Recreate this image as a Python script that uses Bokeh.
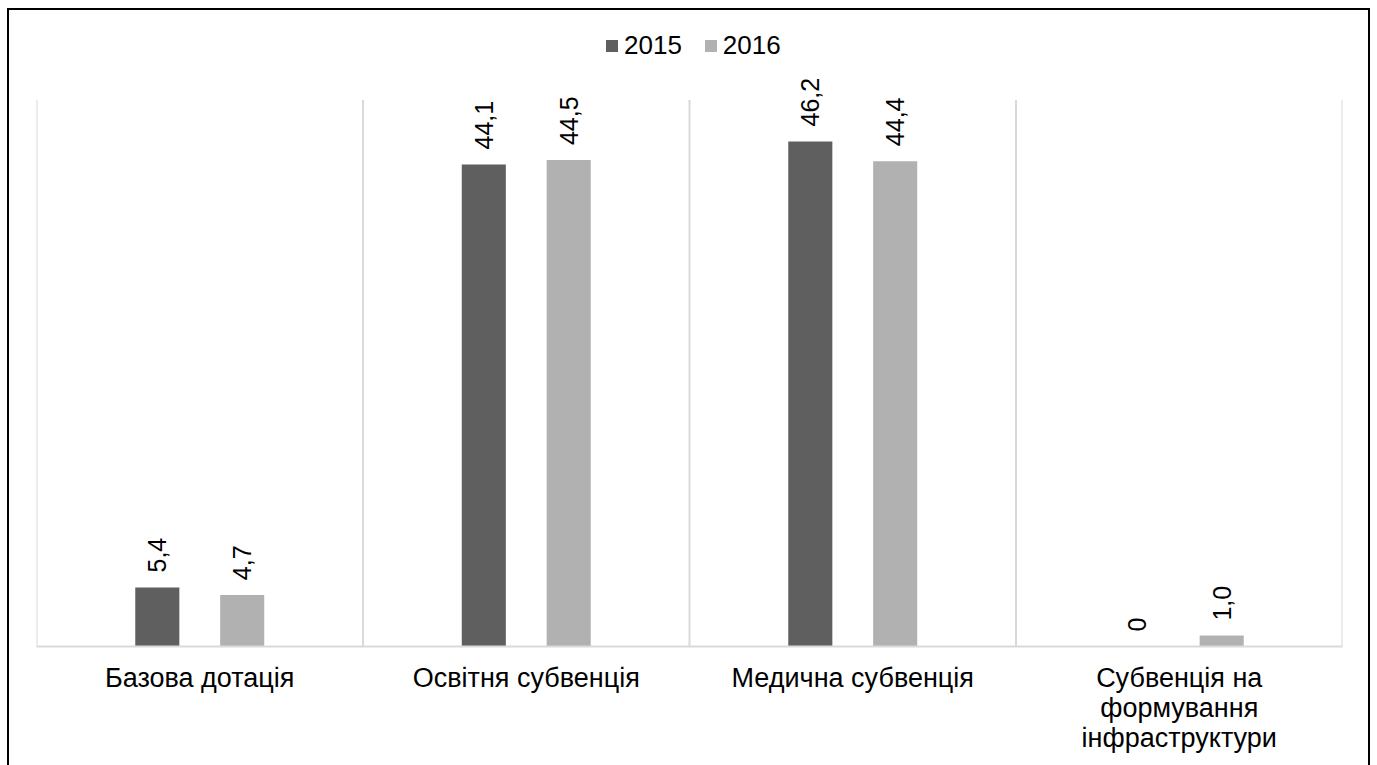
from math import pi

from bokeh.core.properties import value
from bokeh.embed import file_html
from bokeh.models import ColumnDataSource, LabelSet, Legend, Range1d
from bokeh.plotting import figure
from bokeh.resources import INLINE
from bokeh.transform import dodge

# Budget transfers, share (%) by type
categories = [
    "Базова дотація",
    "Освітня субвенція",
    "Медична субвенція",
    "Субвенція на\nформування\nінфраструктури",
]
years = ["2015", "2016"]
values_2015 = [5.4, 44.1, 46.2, 0]
values_2016 = [4.7, 44.5, 44.4, 1.0]

Y_MAX = 50      # top of the value scale (where the separators end)
Y_ROOM = 58     # extra room above it for the legend and the labels

COLOR_2015 = "#5f5f5f"
COLOR_2016 = "#b1b1b1"
GRID = "#d9d9d9"
FONT = "Liberation Sans"


def fmt(v):
    return "0" if v == 0 else f"{v:.1f}".replace(".", ",")


source = ColumnDataSource(dict(
    cat=categories,
    v2015=values_2015,
    v2016=values_2016,
    l2015=[fmt(v) for v in values_2015],
    l2016=[fmt(v) for v in values_2016],
))

p = figure(
    x_range=categories,
    y_range=Range1d(0, Y_ROOM),
    width=1363,
    height=757,
    output_backend="svg",
    toolbar_location=None,
    min_border_left=27,
    min_border_right=30,
    min_border_top=2,
    min_border_bottom=121,
)
p.styles = {
    "border-left": "2px solid #000",
    "border-top": "2px solid #000",
    "border-right": "2px solid #000",
    "margin-left": "7px",
    "margin-top": "8px",
}
p.outline_line_color = None
p.xgrid.visible = False
p.ygrid.visible = False
p.yaxis.visible = False

# vertical separators between the categories
bounds = list(range(len(categories) + 1))
p.segment(x0=bounds, y0=[0] * len(bounds), x1=bounds, y1=[Y_MAX] * len(bounds),
          line_color=GRID, line_width=2)

r15 = p.vbar(x=dodge("cat", -0.13, range=p.x_range), top="v2015", width=0.135,
             source=source, fill_color=COLOR_2015, line_color=None)
r16 = p.vbar(x=dodge("cat", 0.13, range=p.x_range), top="v2016", width=0.135,
             source=source, fill_color=COLOR_2016, line_color=None)

for off, ycol, tcol in [(-0.13, "v2015", "l2015"), (0.13, "v2016", "l2016")]:
    p.add_layout(LabelSet(
        x=dodge("cat", off, range=p.x_range), y=ycol, text=tcol, source=source,
        angle=pi / 2, text_align="left", text_baseline="middle",
        y_offset=15, text_font_size=value("25px"), text_font=value(FONT),
        text_color="#000000",
    ))

ax = p.xaxis[0]
ax.axis_line_color = GRID
ax.axis_line_width = 2
ax.major_tick_line_color = None
ax.minor_tick_line_color = None
ax.major_label_text_font = FONT
ax.major_label_text_font_size = "27px"
ax.major_label_text_color = "#000000"
ax.major_label_text_line_height = 1.0
ax.major_label_standoff = 10

legend = Legend(
    items=[(years[0], [r15]), (years[1], [r16])],
    location=(568, 585),
    orientation="horizontal",
    glyph_width=15, glyph_height=15,
    label_standoff=5, spacing=21,
    padding=0, margin=0,
    border_line_color=None, background_fill_alpha=0,
    label_text_font=FONT, label_text_font_size="26px", label_text_color="#000000",
)
p.add_layout(legend)

open("out.html", "w").write(file_html(p, INLINE))
